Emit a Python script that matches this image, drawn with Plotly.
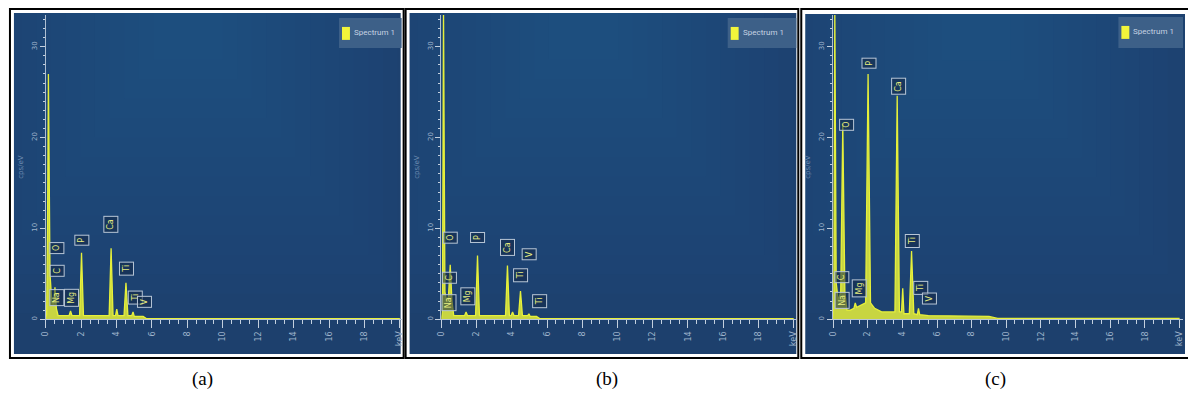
import plotly.graph_objects as go

W, H = 1188, 396

# ---------------- data ----------------
energy_a = [0.00, 0.05, 0.10, 0.15, 0.24, 0.34, 0.44, 0.52, 0.60, 0.70, 1.32, 1.40, 1.48, 1.91, 2.02, 2.13,
            3.58, 3.69, 3.80, 3.94, 4.01, 4.08, 4.42, 4.53, 4.64, 4.86, 4.93, 5.00, 5.50, 5.70, 20.0]
counts_a = [0.0, 0.5, 10.0, 27.0, 5.0, 2.0, 1.5, 3.5, 1.2, 0.4, 0.4, 0.9, 0.4, 0.4, 7.3, 0.4,
            0.4, 7.8, 0.4, 0.4, 1.1, 0.4, 0.4, 4.0, 0.4, 0.4, 0.8, 0.3, 0.3, 0.05, 0.05]

energy_b = [0.00, 0.06, 0.12, 0.20, 0.30, 0.40, 0.50, 0.60, 0.70, 1.32, 1.40, 1.48, 1.94, 2.05, 2.16,
            3.64, 3.75, 3.86, 3.96, 4.04, 4.12, 4.38, 4.49, 4.60, 4.90, 4.97, 5.04, 5.40, 5.60, 20.0]
counts_b = [0.0, 1.0, 34.0, 3.0, 2.0, 2.5, 6.0, 2.0, 0.4, 0.4, 0.8, 0.4, 0.4, 7.0, 0.4,
            0.4, 5.9, 0.4, 0.4, 0.8, 0.4, 0.4, 3.1, 0.4, 0.4, 0.6, 0.3, 0.3, 0.05, 0.05]

energy_c = [0.00, 0.04, 0.10, 0.18, 0.30, 0.44, 0.56, 0.68, 0.80, 1.00, 1.20, 1.28, 1.36, 1.60, 1.88,
            2.02, 2.16, 2.40, 2.80, 3.57, 3.70, 3.83, 3.95, 4.02, 4.09, 4.40, 4.53, 4.66, 4.86, 4.93,
            5.00, 5.50, 7.00, 9.00, 9.50, 20.0]
counts_c = [0.0, 2.0, 34.0, 4.0, 2.0, 3.0, 21.5, 3.0, 1.0, 1.0, 1.2, 1.8, 1.3, 1.5, 1.8,
            27.0, 1.8, 1.2, 0.8, 0.8, 24.6, 0.8, 0.8, 3.4, 0.6, 0.6, 7.5, 0.6, 0.5, 1.2,
            0.5, 0.4, 0.35, 0.3, 0.08, 0.08]

# peak labels: (text, energy, label centre height)
labels_a = [("O", 0.62, 7.8), ("C", 0.62, 5.3), ("Na", 0.62, 2.4), ("Mg", 1.45, 2.4),
            ("P", 2.02, 8.7), ("Ca", 3.69, 10.4), ("Ti", 4.55, 5.6), ("Ti", 5.05, 2.4), ("V", 5.60, 1.9)]
labels_b = [("O", 0.50, 9.0), ("C", 0.45, 4.6), ("Na", 0.45, 1.8), ("Mg", 1.50, 2.5),
            ("P", 2.05, 9.0), ("Ca", 3.75, 7.9), ("Ti", 4.50, 4.8), ("V", 5.00, 7.2), ("Ti", 5.55, 2.0)]
labels_c = [("O", 0.80, 21.4), ("C", 0.50, 4.6), ("Na", 0.50, 2.1), ("Mg", 1.50, 3.4),
            ("P", 2.05, 28.2), ("Ca", 3.80, 25.7), ("Ti", 4.55, 8.6), ("Ti", 5.05, 3.4), ("V", 5.55, 2.3)]

x_ticks = [0, 2, 4, 6, 8, 10, 12, 14, 16, 18, 20]
x_ticktext = ["0", "2", "4", "6", "8", "10", "12", "14", "16", "18", "keV"]
y_ticks = [0, 10, 20, 30]
captions = ["(a)", "(b)", "(c)"]
legend_name = "Spectrum 1"

panels = [
    dict(e=energy_a, c=counts_a, lab=labels_a, xd=(42, 400), xr=20.1,
         frame=(6, 9, 402, 359), blue=(10, 13, 399, 355), leg=(337, 18, 400, 48), cap=200),
    dict(e=energy_b, c=counts_b, lab=labels_b, xd=(440, 797), xr=20.15,
         frame=(404, 9, 799, 359), blue=(408, 13, 797, 355), leg=(728, 18, 797, 48), cap=607),
    dict(e=energy_c, c=counts_c, lab=labels_c, xd=(834, 1186), xr=20.2,
         frame=(802, 9, 1194, 359), blue=(806, 14, 1188, 355), leg=(1121, 17, 1186, 48), cap=997),
]

def px(x):
    return x / W

def py(y):
    return 1 - y / H

fig = go.Figure()
shapes = []
annotations = []
ydom = [py(320), py(15)]

for i, p in enumerate(panels):
    n = "" if i == 0 else str(i + 1)
    xa, ya = "x" + n, "y" + n
    # frame + background
    fx0, fy0, fx1, fy1 = p["frame"]
    shapes.append(dict(type="rect", xref="paper", yref="paper", x0=px(fx0), x1=px(fx1),
                       y0=py(fy1), y1=py(fy0), line=dict(color="black", width=2),
                       fillcolor="white", layer="below"))
    bx0, by0, bx1, by1 = p["blue"]
    shapes.append(dict(type="rect", xref="paper", yref="paper", x0=px(bx0), x1=px(bx1),
                       y0=py(by1), y1=py(by0), line=dict(width=0),
                       fillcolor="#1d406d", layer="below"))
    bw, bh = bx1 - bx0, by1 - by0
    cx = bx0 + bw * 0.45
    for k in range(14):
        f = 1 - k * 0.065
        shapes.append(dict(type="rect", xref="paper", yref="paper",
                           x0=px(max(bx0, cx - bw * 0.58 * f)), x1=px(min(bx1, cx + bw * 0.58 * f)),
                           y0=py(by0 + bh * 0.88 * f), y1=py(by0), line=dict(width=0),
                           fillcolor="#3c72a8", opacity=0.035, layer="below"))
    # legend box
    lx0, ly0, lx1, ly1 = p["leg"]
    shapes.append(dict(type="rect", xref="paper", yref="paper", x0=px(lx0), x1=px(lx1),
                       y0=py(ly1), y1=py(ly0), line=dict(width=0), fillcolor="#3d6088"))
    shapes.append(dict(type="rect", xref="paper", yref="paper", x0=px(lx0 + 3), x1=px(lx0 + 11),
                       y0=py(ly0 + 22), y1=py(ly0 + 9), line=dict(width=0), fillcolor="#f2f53a"))
    annotations.append(dict(xref="paper", yref="paper", x=px(lx0 + 13), y=py(ly0 + 15),
                            text=legend_name, showarrow=False, xanchor="left", yanchor="middle",
                            font=dict(size=8, color="#c5d2e2", family="Roboto")))
    # spectrum
    fig.add_trace(go.Scatter(x=p["e"], y=p["c"], mode="lines", name=legend_name,
                             line=dict(color="#e6f03a", width=1.3), fill="tozeroy",
                             fillcolor="rgba(230,240,58,0.85)", xaxis=xa, yaxis=ya,
                             showlegend=False, hoverinfo="x+y"))
    # peak labels
    for (t, e, yc) in p["lab"]:
        annotations.append(dict(xref=xa, yref=ya, x=e, y=yc, text=t, showarrow=False,
                                textangle=-90, xanchor="center", yanchor="middle",
                                font=dict(size=8, color="#e8ee80", family="DejaVu Sans"),
                                bordercolor="#b8c6d6", borderwidth=1, borderpad=2,
                                bgcolor="rgba(18,40,70,0.55)"))
    # caption
    annotations.append(dict(xref="paper", yref="paper", x=px(p["cap"]), y=py(380), text=captions[i],
                            showarrow=False, xanchor="center", yanchor="middle",
                            font=dict(size=19, color="black", family="Liberation Serif")))
    # axes
    xd = [px(p["xd"][0]), px(p["xd"][1])]
    fig.layout["xaxis" + n] = dict(domain=xd, range=[0, p["xr"]], anchor=ya, tickvals=x_ticks,
                                   ticktext=x_ticktext, ticks="outside", ticklen=8, tickwidth=1,
                                   tickcolor="#c4d0de", showline=True, linecolor="#b8c6d6",
                                   linewidth=1, showgrid=False, zeroline=False, tickangle=-90,
                                   tickfont=dict(size=8, color="#9fb4cc", family="DejaVu Sans"),
                                   minor=dict(dtick=0.5, ticks="outside", ticklen=4,
                                              tickcolor="#c4d0de"),
                                   fixedrange=True)
    fig.layout["yaxis" + n] = dict(domain=ydom, range=[0, 33.5], anchor=xa, tickvals=y_ticks,
                                   ticks="outside", ticklen=5, tickcolor="#c4d0de",
                                   showline=True, linecolor="#aebfd2", linewidth=1,
                                   showgrid=False, zeroline=False, tickangle=-90,
                                   tickfont=dict(size=7, color="#9fb4cc", family="DejaVu Sans"),
                                   minor=dict(dtick=1, ticks="outside", ticklen=2,
                                              tickcolor="#c4d0de"),
                                   title=dict(text="cps/eV", standoff=6,
                                              font=dict(size=7, color="#6f8db2",
                                                        family="DejaVu Sans")),
                                   fixedrange=True)

fig.update_layout(width=W, height=H, margin=dict(l=0, r=0, t=0, b=0),
                  paper_bgcolor="white", plot_bgcolor="rgba(0,0,0,0)",
                  shapes=shapes, annotations=annotations, showlegend=False)

fig.write_html("out.html", config={"displayModeBar": False},
               post_script="document.body.style.margin='0';document.body.style.overflow='hidden';")
